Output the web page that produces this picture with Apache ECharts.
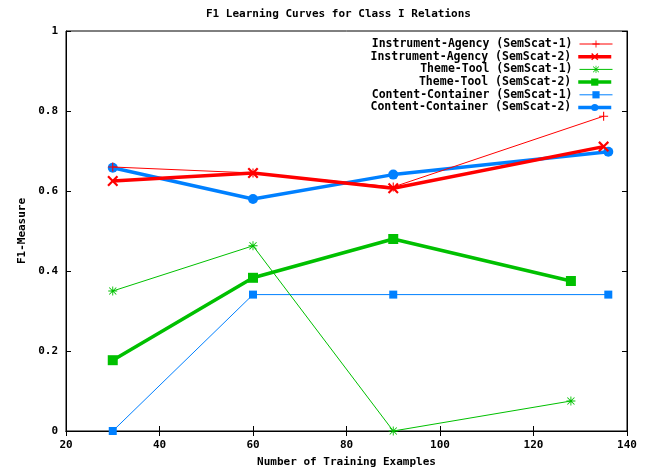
<!DOCTYPE html>
<html>
<head>
<meta charset="utf-8">
<script src="https://cdn.jsdelivr.net/npm/echarts@6/dist/echarts.min.js"></script>
<style>html,body{margin:0;padding:0;background:#fff;}#c{width:653px;height:470px;}</style>
</head>
<body>
<div id="c"></div>
<script>
const seriesNames = [
  'Instrument-Agency (SemScat-1)',
  'Instrument-Agency (SemScat-2)',
  'Theme-Tool (SemScat-1)',
  'Theme-Tool (SemScat-2)',
  'Content-Container (SemScat-1)',
  'Content-Container (SemScat-2)'
];
const xInstrument = [30, 60, 90, 135];
const xTheme = [30, 60, 90, 128];
const xContent = [30, 60, 90, 136];
const iaS1 = [0.66, 0.645, 0.61, 0.787];
const iaS2 = [0.625, 0.645, 0.607, 0.711];
const ttS1 = [0.35, 0.463, 0.0, 0.075];
const ttS2 = [0.177, 0.383, 0.48, 0.375];
const ccS1 = [0.0, 0.341, 0.341, 0.341];
const ccS2 = [0.658, 0.58, 0.641, 0.698];
const xTicks = [20, 40, 60, 80, 100, 120, 140];
const yTicks = [0, 0.2, 0.4, 0.6, 0.8, 1];

const FONT = '"DejaVu Sans Mono", "Liberation Mono", monospace';
const pair = (xs, ys) => xs.map((x, i) => [x, ys[i]]);

const PLUS = 'path://M4.4,0H5.6V10H4.4Z M0,4.4H10V5.6H0Z';
const CROSS = 'path://M0,1.4L1.4,0L5,3.6L8.6,0L10,1.4L6.4,5L10,8.6L8.6,10L5,6.4L1.4,10L0,8.6L3.6,5Z';
const STAR = 'path://M4.5,0H5.5V10H4.5Z M0,4.5H10V5.5H0Z M0.7,1.4L1.4,0.7L9.3,8.6L8.6,9.3Z M8.6,0.7L9.3,1.4L1.4,9.3L0.7,8.6Z';

const RED = '#ff0000', GREEN = '#00c000', BLUE = '#0080ff';

const defs = [
  {data: pair(xInstrument, iaS1), color: RED, width: 1, symbol: PLUS, size: 9},
  {data: pair(xInstrument, iaS2), color: RED, width: 3.5, symbol: CROSS, size: 11},
  {data: pair(xTheme, ttS1), color: GREEN, width: 1, symbol: STAR, size: 9},
  {data: pair(xTheme, ttS2), color: GREEN, width: 3.5, symbol: 'rect', size: 10},
  {data: pair(xContent, ccS1), color: BLUE, width: 1, symbol: 'rect', size: 8},
  {data: pair(xContent, ccS2), color: BLUE, width: 3.5, symbol: 'circle', size: 10}
];

const series = defs.map((d, i) => ({
  name: seriesNames[i],
  type: 'line',
  data: d.data,
  symbol: d.symbol,
  symbolSize: d.size,
  showAllSymbol: true,
  lineStyle: {color: d.color, width: d.width},
  itemStyle: {color: d.color},
  z: 10 - i,
  animation: false,
  clip: false
}));

const legends = seriesNames.map((n, i) => ({
  data: [n],
  right: 40,
  top: 38 + i * 12.7,
  align: 'right',
  orient: 'vertical',
  itemWidth: 33,
  itemHeight: 9,
  itemGap: 0,
  padding: 0,
  lineStyle: {width: defs[i].width},
  textStyle: {fontFamily: FONT, fontWeight: 'bold', fontSize: 11.5, color: '#000', padding: [0, 2, 0, 0]},
  selectedMode: false
}));

const chart = echarts.init(document.getElementById('c'), null, {renderer: 'canvas'});
chart.setOption({
  backgroundColor: '#fff',
  animation: false,
  title: {
    text: 'F1 Learning Curves for Class I Relations',
    left: 206,
    top: 9,
    padding: 0,
    textStyle: {fontFamily: FONT, fontWeight: 'bold', fontSize: 11, color: '#000'}
  },
  legend: legends,
  grid: {left: 66, right: 26, top: 31, bottom: 39, show: true, borderColor: '#000', borderWidth: 1, backgroundColor: 'transparent', outerBoundsMode: 'none', containLabel: false},
  xAxis: [{
    type: 'value', min: xTicks[0], max: xTicks[xTicks.length - 1], interval: 20,
    name: 'Number of Training Examples', nameLocation: 'middle', nameGap: 26,
    nameTextStyle: {fontFamily: FONT, fontWeight: 'bold', fontSize: 11, color: '#000'},
    axisLine: {show: true, lineStyle: {color: '#000'}},
    axisTick: {show: true, inside: true, length: 5, lineStyle: {color: '#000'}},
    axisLabel: {fontFamily: FONT, fontWeight: 'bold', fontSize: 11, color: '#000', margin: 9},
    splitLine: {show: false}
  }, {
    type: 'value', position: 'top', min: xTicks[0], max: xTicks[xTicks.length - 1], interval: 20,
    axisLine: {show: true, lineStyle: {color: '#000'}},
    axisTick: {show: true, inside: true, length: 5, lineStyle: {color: '#000'}},
    axisLabel: {show: false}, splitLine: {show: false}
  }],
  yAxis: [{
    type: 'value', min: yTicks[0], max: yTicks[yTicks.length - 1], interval: 0.2,
    name: 'F1-Measure', nameLocation: 'middle', nameGap: 38, nameRotate: 90,
    nameTextStyle: {fontFamily: FONT, fontWeight: 'bold', fontSize: 11, color: '#000'},
    axisLine: {show: true, lineStyle: {color: '#000'}},
    axisTick: {show: true, inside: true, length: 5, lineStyle: {color: '#000'}},
    axisLabel: {fontFamily: FONT, fontWeight: 'bold', fontSize: 11, color: '#000', margin: 8},
    splitLine: {show: false}
  }, {
    type: 'value', position: 'right', min: yTicks[0], max: yTicks[yTicks.length - 1], interval: 0.2,
    axisLine: {show: true, lineStyle: {color: '#000'}},
    axisTick: {show: true, inside: true, length: 5, lineStyle: {color: '#000'}},
    axisLabel: {show: false}, splitLine: {show: false}
  }],
  series: series
});
</script>
</body>
</html>
